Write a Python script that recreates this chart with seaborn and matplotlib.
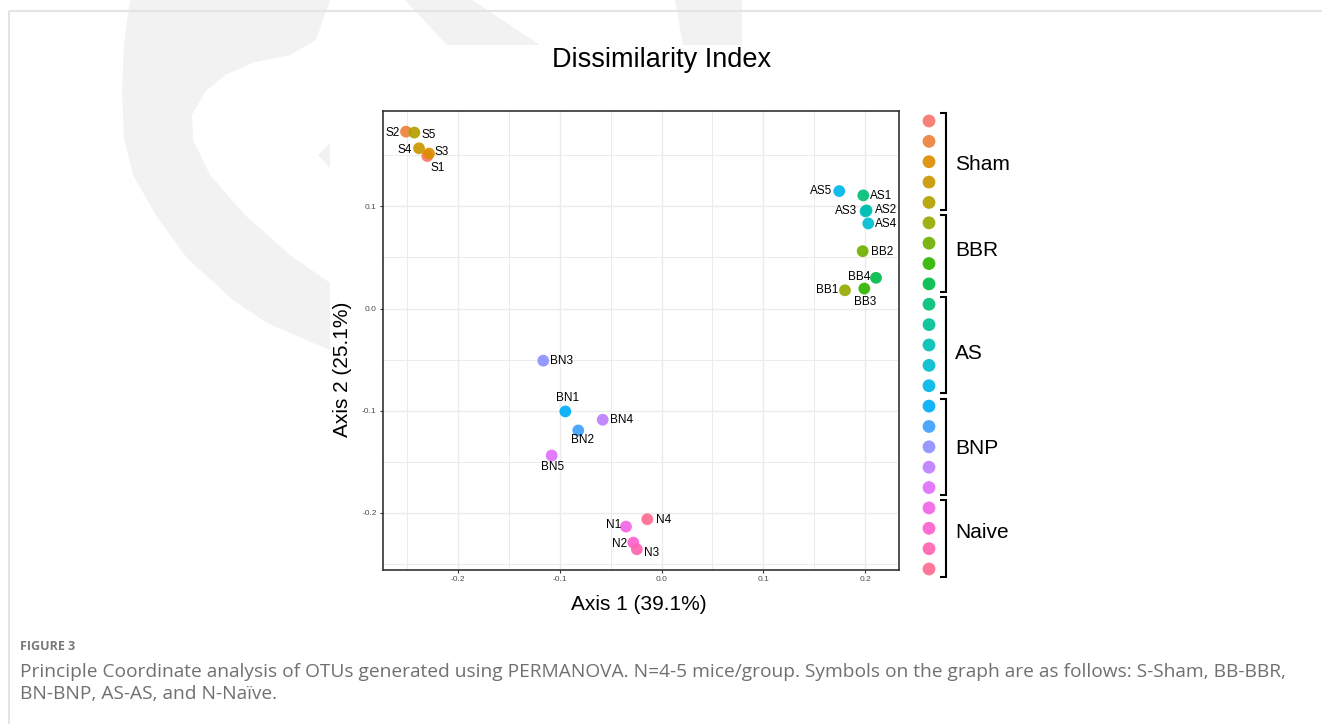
import numpy as np
import pandas as pd
import matplotlib
matplotlib.use("Agg")
import matplotlib.pyplot as plt
import seaborn as sns
from matplotlib.patches import Polygon, Rectangle

# ---------------- data ----------------
samples = ["S1", "S2", "S3", "S4", "S5",
           "BB1", "BB2", "BB3", "BB4",
           "AS1", "AS2", "AS3", "AS4", "AS5",
           "BN1", "BN2", "BN3", "BN4", "BN5",
           "N1", "N2", "N3", "N4"]
axis1 = [-0.2302, -0.2511, -0.2285, -0.2383, -0.2429,
         0.1803, 0.1977, 0.1993, 0.2108,
         0.1983, 0.2015, 0.2005, 0.2032, 0.1747,
         -0.0945, -0.0818, -0.1162, -0.0578, -0.1079,
         -0.0349, -0.0277, -0.0242, -0.0140]
axis2 = [0.1493, 0.1732, 0.1517, 0.1569, 0.1723,
         0.0179, 0.0562, 0.0196, 0.0301,
         0.1108, 0.0961, 0.0951, 0.0833, 0.1150,
         -0.1007, -0.1193, -0.0510, -0.1088, -0.1438,
         -0.2134, -0.2291, -0.2356, -0.2062]
group_names = ["Sham", "BBR", "AS", "BNP", "Naive"]
group_sizes = [5, 4, 5, 5, 4]
x_ticks = [-0.2, -0.1, 0.0, 0.1, 0.2]
y_ticks = [-0.2, -0.1, 0.0, 0.1]

title = "Dissimilarity Index"
xlabel = "Axis 1 (39.1%)"
ylabel = "Axis 2 (25.1%)"
fig_label = "FIGURE 3"
caption1 = ("Principle Coordinate analysis of OTUs generated using PERMANOVA. N=4-5 mice/group. "
            "Symbols on the graph are as follows: S-Sham, BB-BBR,")
caption2 = "BN-BNP, AS-AS, and N-Na\u00efve."

# label placement (pixel offsets, horizontal alignment)
label_pos = {
    "S1": (10, 12, "center"), "S2": (-6, 1, "right"), "S3": (6, -2, "left"),
    "S4": (-7, 2, "right"), "S5": (7, 2, "left"),
    "BB1": (-7, 0, "right"), "BB2": (8, 1, "left"), "BB3": (1, 13, "center"),
    "BB4": (-6, -1, "right"),
    "AS1": (7, 1, "left"), "AS2": (8, 0, "left"), "AS3": (-8, 0, "right"),
    "AS4": (7, 1, "left"), "AS5": (-7, 0, "right"),
    "BN1": (2, -13, "center"), "BN2": (4, 10, "center"), "BN3": (7, 0, "left"),
    "BN4": (7, 0, "left"), "BN5": (1, 12, "center"),
    "N1": (-5, -2, "right"), "N2": (-6, 1, "right"), "N3": (7, 4, "left"),
    "N4": (9, 1, "left"),
}
# vertical shift of each group name relative to its group centre (legend rows)
group_label_shift = [0.15, -0.12, 0.43, 0.08, -0.3]


def hcl(h, c=100.0, l=65.0):
    """R grDevices::hcl -> sRGB (as ggplot2 hue_pal)."""
    WY, Wu, Wv = 100.0, 0.1978398, 0.4683363
    hr = np.deg2rad(h)
    U, V = c * np.cos(hr), c * np.sin(hr)
    Y = WY * ((l + 16) / 116) ** 3 if l > 7.999592 else WY * l / 903.3
    u = U / (13 * l) + Wu
    v = V / (13 * l) + Wv
    X = 9.0 * Y * u / (4 * v)
    Z = -X / 3 - 5 * Y + 3 * Y / v

    def g(t):
        return 1.055 * t ** (1 / 2.4) - 0.055 if t > 0.00304 else 12.92 * t
    r = g((3.240479 * X - 1.537150 * Y - 0.498535 * Z) / WY)
    gg = g((-0.969256 * X + 1.875992 * Y + 0.041556 * Z) / WY)
    b = g((0.055648 * X - 0.204043 * Y + 1.057311 * Z) / WY)
    return tuple(float(np.clip(x, 0, 1)) for x in (r, gg, b))


n = len(samples)
hues = np.linspace(15, 375, n + 1)[:-1]
colors = [hcl(h) for h in hues]

df = pd.DataFrame({"Sample": samples, "Axis1": axis1, "Axis2": axis2})

# ---------------- figure ----------------
W, H = 1322, 724
sns.set_style("white")
plt.rcParams["font.family"] = ["Liberation Sans", "DejaVu Sans"]
fig = plt.figure(figsize=(W / 100, H / 100), dpi=100)

bg = fig.add_axes([0, 0, 1, 1])
bg.set_xlim(0, W)
bg.set_ylim(H, 0)
bg.axis("off")
bg.set_zorder(0)

# faint background watermark and page frame
wm = "#f2f2f2"
left_band = [(130, 0), (124, 45), (122, 92), (124, 138), (133, 175), (157, 217),
             (187, 258), (233, 300), (267, 323), (330, 350), (330, 283),
             (290, 255), (245, 215), (210, 175), (193, 140), (192, 115),
             (205, 92), (225, 75), (255, 62), (290, 55), (316, 40), (330, 0)]
bg.add_patch(Polygon(left_band, closed=True, color=wm, lw=0, zorder=0))
bg.add_patch(Polygon([(318, 155), (330, 143), (330, 168)], closed=True, color=wm, lw=0, zorder=0))
bg.add_patch(Polygon([(405, 0), (472, 0), (540, 45), (447, 45)], closed=True, color=wm, lw=0, zorder=0))
bg.add_patch(Polygon([(675, 0), (742, 0), (742, 45), (683, 45)], closed=True, color=wm, lw=0, zorder=0))
bg.add_patch(Rectangle((330, 45), W - 330, 580, color="white", lw=0, zorder=1))
bg.plot([9, 9], [11, H], color="#e4e4e4", lw=1.5, zorder=2, solid_capstyle="butt")
bg.plot([9, W], [11, 11], color="#e4e4e4", lw=1.5, zorder=2, solid_capstyle="butt")


def fax(left, top, right, bottom):
    return [left / W, 1 - bottom / H, (right - left) / W, (bottom - top) / H]


# ---------------- main scatter ----------------
ax = fig.add_axes(fax(383, 111, 899, 570))
ax.set_zorder(3)
ax.set_facecolor("white")
sns.scatterplot(data=df, x="Axis1", y="Axis2", hue="Sample", hue_order=samples,
                palette=colors, s=72, linewidth=0, alpha=0.92, legend=False, ax=ax, zorder=3)
ax.set_xticks(x_ticks)
ax.set_xticklabels([f"{v:.1f}" for v in x_ticks])
ax.set_yticks(y_ticks)
ax.set_yticklabels([f"{v:.1f}" for v in y_ticks])
ax.set_xticks(np.arange(-0.25, 0.26, 0.1), minor=True)
ax.set_yticks(np.arange(-0.25, 0.2, 0.1), minor=True)
# limits last so the tick setters cannot widen them
ax.set_xlim(-0.2737, 0.2334)
ax.set_ylim(-0.2559, 0.1934)
ax.grid(which="major", color="#ebebeb", lw=1.0)
ax.grid(which="minor", color="#ebebeb", lw=0.7)
ax.set_axisbelow(True)
ax.tick_params(which="major", length=2.5, width=0.8, color="#333333",
               labelsize=6, labelcolor="#4d4d4d", pad=2, bottom=True, left=True)
ax.tick_params(which="minor", length=0)
for s in ax.spines.values():
    s.set_color("#333333")
    s.set_linewidth(1.2)

ax.set_xlabel(xlabel, fontsize=15, color="black", va="center", ha="center")
ax.xaxis.set_label_coords((639 - 383) / 516, -(605 - 570) / 459)
ax.set_ylabel(ylabel, fontsize=15, color="black", va="center", ha="center")
ax.yaxis.set_label_coords((342 - 383) / 516, (570 - 369) / 459)

for name, x, y in zip(samples, axis1, axis2):
    dx, dy, ha = label_pos[name]
    ax.annotate(name, (x, y), xytext=(dx, -dy), textcoords="offset pixels",
                ha=ha, va="center", fontsize=8.5, color="black", zorder=4)

# ---------------- title ----------------
bg.text(662, 60, title, ha="center", va="center", fontsize=19.5, color="black", zorder=3)

# ---------------- legend (dots + brackets) ----------------
lg = fig.add_axes(fax(915, 110.8, 1040, 579.2))
lg.set_zorder(3)
lg.set_xlim(0, 125)
lg.set_ylim(n - 0.5, -0.5)
lg.axis("off")
sns.scatterplot(x=np.full(n, 14.0), y=np.arange(n), hue=samples, hue_order=samples,
                palette=colors, s=85, linewidth=0, alpha=0.92, legend=False, ax=lg)
lg.set_xlim(0, 125)
lg.set_ylim(n - 0.5, -0.5)
start = 0
for gname, size, shift in zip(group_names, group_sizes, group_label_shift):
    top = start - 0.37
    bot = start + size - 1 + 0.38
    lg.plot([25, 31, 31, 25], [top, top, bot, bot], color="black", lw=1.5,
            solid_joinstyle="miter", solid_capstyle="butt")
    lg.text(40, start + (size - 1) / 2 + shift, gname, ha="left", va="center",
            fontsize=15, color="black")
    start += size

# ---------------- caption ----------------
cap_font = ["Open Sans", "DejaVu Sans"]
bg.text(20, 646, fig_label, ha="left", va="center", fontsize=9, fontweight="bold",
        color="#7a7a7a", family=cap_font, zorder=3)
t1 = bg.text(20, 672, caption1, ha="left", va="center", fontsize=11.5,
             color="#707070", family=cap_font, zorder=3)
t2 = bg.text(20, 694, caption2, ha="left", va="center", fontsize=11.5,
             color="#707070", family=cap_font, zorder=3)
fig.canvas.draw()
wpx = t1.get_window_extent().width
fs = 11.5 * 1271 / wpx
t1.set_fontsize(fs)
t2.set_fontsize(fs)

fig.savefig("out.png", dpi=100, facecolor="white")
